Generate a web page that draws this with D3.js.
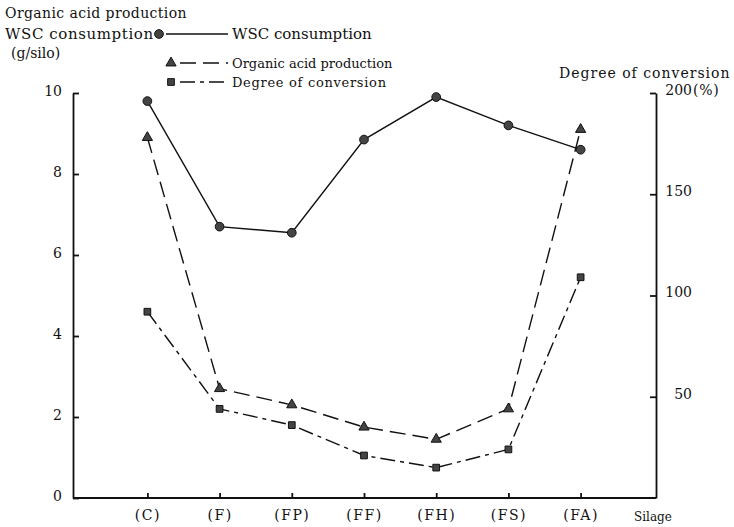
<!DOCTYPE html>
<html>
<head>
<script src="https://d3js.org/d3.v7.min.js"></script>
<style>
  body { margin: 0; background: #fff; }
  svg { display: block; }
  svg text { font-family: "DejaVu Serif", "Liberation Serif", serif; fill: #111; }
  .axis path, .axis line { stroke: #111; stroke-width: 1.8; }
  .axis text { font-size: 14px; }
</style>
</head>
<body>
<script>
// silage treatments
const silages = ["(C)", "(F)", "(FP)", "(FF)", "(FH)", "(FS)", "(FA)"];
// g/silo
const wscConsumption = [9.8, 6.7, 6.55, 8.85, 9.9, 9.2, 8.6];
const organicAcid = [8.9, 2.7, 2.3, 1.75, 1.45, 2.2, 9.1];
// percent, right axis
const conversion = [92, 44, 36, 21, 15, 24, 109];

const leftTicks = [0, 2, 4, 6, 8, 10];
const rightTicks = [50, 100, 150, 200];

const width = 734, height = 527;
const svg = d3.select("body").append("svg")
  .attr("width", width)
  .attr("height", height);

const x = d3.scalePoint()
  .domain(silages)
  .range([73, 655])
  .padding(1.03);

const y = d3.scaleLinear().domain([0, 10]).range([498, 93]);
const y2 = d3.scaleLinear().domain([0, 200]).range([498, 93]);

// left axis (ticks point inward)
const gl = svg.append("g")
  .attr("class", "axis")
  .attr("transform", "translate(73,0)")
  .call(d3.axisLeft(y).tickValues(leftTicks).tickSize(-6).tickSizeOuter(0).tickPadding(11));
gl.selectAll("text").attr("dy", "0.2em");

// right axis
const gr = svg.append("g")
  .attr("class", "axis")
  .attr("transform", "translate(656,0)")
  .call(d3.axisRight(y2).tickValues(rightTicks).tickSize(-6).tickSizeOuter(0).tickPadding(10));
gr.selectAll("text")
  .attr("text-anchor", "end")
  .attr("x", 36)
  .attr("dy", "0.1em");
gr.selectAll(".tick").filter(d => d === 200).append("text")
  .attr("x", 37)
  .attr("dy", "0.1em")
  .attr("letter-spacing", "0.8px")
  .text("(%)");

// bottom axis
const gb = svg.append("g")
  .attr("class", "axis")
  .attr("transform", "translate(0,498)")
  .call(d3.axisBottom(x).tickSize(-5).tickSizeOuter(0).tickPadding(12));
gb.selectAll("text").attr("letter-spacing", "1.5px");
gb.select(".domain").attr("d", "M73,0H656");

svg.append("text")
  .attr("x", 634).attr("y", 521)
  .attr("font-size", 12)
  .text("Silage");

// axis titles
svg.append("text").attr("x", 5).attr("y", 18)
  .attr("font-size", 14).attr("letter-spacing", "0.4px")
  .text("Organic acid production");
svg.append("text").attr("x", 5).attr("y", 39)
  .attr("font-size", 15).attr("letter-spacing", "0.6px")
  .text("WSC consumption");
svg.append("text").attr("x", 11).attr("y", 58)
  .attr("font-size", 14)
  .text("(g/silo)");
svg.append("text").attr("x", 559).attr("y", 78)
  .attr("font-size", 14).attr("letter-spacing", "1px")
  .text("Degree of conversion");

// series
const series = [
  { name: "WSC consumption", values: wscConsumption, scale: y, dash: null, symbol: d3.symbolCircle, size: 60, legendY: 34, fontSize: 15, spacing: "0px" },
  { name: "Organic acid production", values: organicAcid, scale: y, dash: "16,7", symbol: d3.symbolTriangle, size: 45, legendY: 63, fontSize: 13, spacing: "0px" },
  { name: "Degree of conversion", values: conversion, scale: y2, dash: "15,5,4,5", symbol: d3.symbolSquare, size: 45, legendY: 82, fontSize: 13, spacing: "0.7px" }
];

series.forEach(s => {
  const line = d3.line()
    .x((d, i) => x(silages[i]))
    .y(d => s.scale(d));

  svg.append("path")
    .datum(s.values)
    .attr("d", line)
    .attr("fill", "none")
    .attr("stroke", "#111")
    .attr("stroke-width", 1.4)
    .attr("stroke-dasharray", s.dash);

  svg.selectAll(null)
    .data(s.values)
    .join("path")
    .attr("transform", (d, i) => `translate(${x(silages[i])},${s.scale(d)})`)
    .attr("d", d3.symbol(s.symbol, s.size))
    .attr("fill", "#444")
    .attr("stroke", "#111")
    .attr("stroke-width", 1);

  // legend
  const isCircle = s.symbol === d3.symbolCircle;
  svg.append("path")
    .attr("transform", `translate(${isCircle ? 159 : 171},${s.legendY})`)
    .attr("d", d3.symbol(s.symbol, s.size))
    .attr("fill", "#444")
    .attr("stroke", "#111");
  svg.append("line")
    .attr("x1", isCircle ? 166 : 180)
    .attr("x2", 228)
    .attr("y1", s.legendY).attr("y2", s.legendY)
    .attr("stroke", "#111")
    .attr("stroke-width", 1.4)
    .attr("stroke-dasharray", s.dash);
  svg.append("text")
    .attr("x", 232).attr("y", s.legendY + 5)
    .attr("font-size", s.fontSize)
    .attr("letter-spacing", s.spacing)
    .text(s.name);
});
</script>
</body>
</html>
